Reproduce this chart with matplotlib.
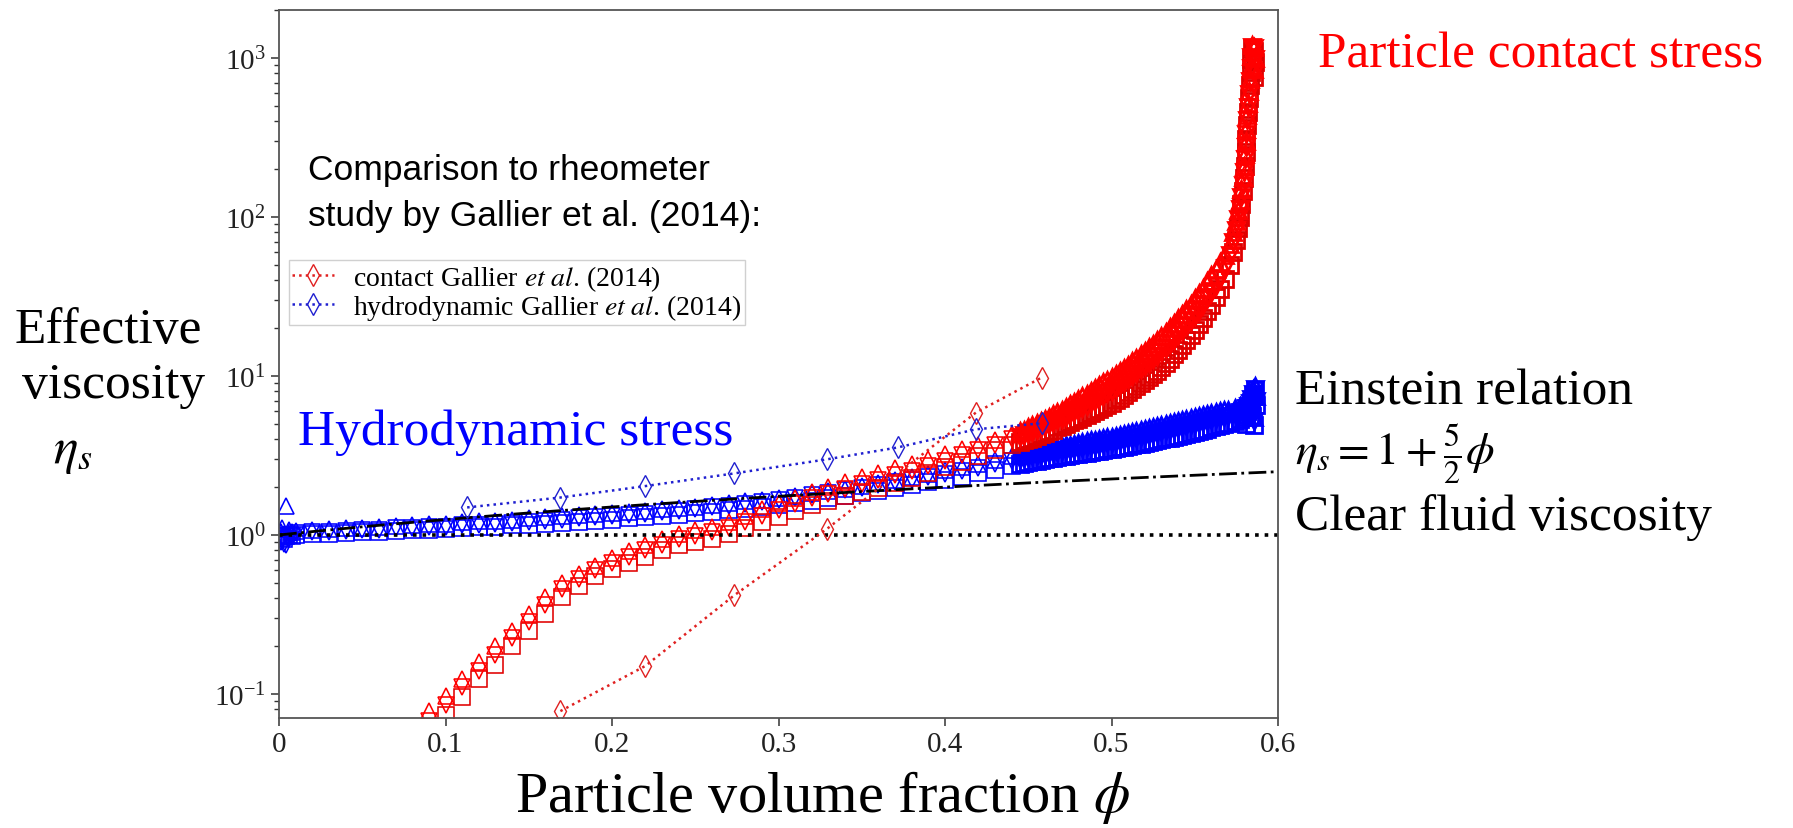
import matplotlib.pyplot as plt
from matplotlib.lines import Line2D
import numpy as np

# Figure size in pixels (dpi 100)
_W, _H = 1793, 829
_MS = 11.5
_MEW = 1.15
_MEW_DENSE = 2.0
_PHI_DENSE = 0.444

# Simulations: contact stress contribution
phi_contact = [0.09, 0.10, 0.11, 0.12, 0.13, 0.14, 0.15, 0.16, 0.17, 0.18,
               0.19, 0.20, 0.21, 0.22, 0.23, 0.24, 0.25, 0.26, 0.27, 0.28,
               0.29, 0.30, 0.31, 0.32, 0.33, 0.34, 0.35, 0.36, 0.37, 0.38,
               0.39, 0.40, 0.41, 0.42, 0.43, 0.44,
               0.445, 0.4475, 0.45, 0.4525, 0.455, 0.4575, 0.46, 0.4625,
               0.465, 0.4675, 0.47, 0.4725, 0.475, 0.4775, 0.48, 0.4825,
               0.485, 0.4875, 0.49, 0.4925, 0.495, 0.4975, 0.50, 0.5025,
               0.505, 0.5075, 0.51, 0.5125, 0.515, 0.5175, 0.52, 0.5225,
               0.525, 0.5275, 0.53, 0.5325, 0.535, 0.5375, 0.54, 0.5425,
               0.545, 0.5475, 0.55, 0.5525, 0.555, 0.5575, 0.56, 0.5625, 0.565,
               0.568, 0.571, 0.573, 0.575, 0.576, 0.577, 0.578, 0.579,
               0.5795, 0.580, 0.5805, 0.581, 0.5815, 0.582, 0.5825, 0.583,
               0.5835, 0.584, 0.5845,
               0.5855, 0.5855, 0.586]
contact_sq = [0.058, 0.074, 0.096, 0.125, 0.152, 0.20, 0.25, 0.32, 0.41, 0.48,
              0.55, 0.61, 0.67, 0.73, 0.80, 0.86, 0.90, 0.95, 1.01, 1.10,
              1.20, 1.30, 1.42, 1.54, 1.64, 1.75, 1.86, 1.98, 2.12, 2.28,
              2.46, 2.66, 2.88, 3.12, 3.40, 3.70,
              3.85, 3.95, 4.0, 4.1, 4.2, 4.3, 4.4, 4.5,
              4.6, 4.75, 4.85, 5.0, 5.1, 5.25, 5.4, 5.55,
              5.7, 5.85, 6.0, 6.2, 6.4, 6.6, 6.8, 7.05,
              7.3, 7.6, 7.9, 8.25, 8.6, 9.0, 9.4, 9.85,
              10.3, 10.8, 11.4, 12.1, 12.8, 13.7, 14.6, 15.7,
              16.8, 18.1, 19.5, 21.2, 23, 25.5, 28, 31.5, 35,
              41, 50, 60, 72, 85, 100, 120, 145,
              175, 210, 255, 310, 380, 460, 560, 680,
              820, 980, 1150,
              760, 1100, 950]
contact_tri_up = [0.078, 0.097, 0.125, 0.16, 0.2, 0.25, 0.32, 0.41, 0.5, 0.57,
                  0.64, 0.72, 0.79, 0.86, 0.94, 1.01, 1.07, 1.13, 1.21, 1.32,
                  1.45, 1.58, 1.72, 1.86, 2.0, 2.15, 2.3, 2.45, 2.62, 2.8,
                  3.0, 3.22, 3.45, 3.7, 3.98, 4.3,
                  4.5, 4.6, 4.75, 4.9, 5.05, 5.2, 5.4, 5.55,
                  5.75, 5.95, 6.15, 6.4, 6.65, 6.9, 7.15, 7.45,
                  7.75, 8.05, 8.4, 8.75, 9.1, 9.5, 9.9, 10.3,
                  10.8, 11.3, 11.8, 12.4, 13.0, 13.7, 14.4, 15.2,
                  16.0, 16.9, 17.9, 19.0, 20.2, 21.5, 23, 24.7,
                  26.5, 28.5, 30.8, 33.3, 36, 39.5, 43, 47, 52,
                  58, 68, 80, 95, 110, 128, 150, 178,
                  210, 250, 300, 360, 435, 520, 620, 740,
                  880, 1030, 1200,
                  850, 1180, 1000]
contact_tri_dn = [0.068, 0.085, 0.11, 0.14, 0.175, 0.225, 0.285, 0.365, 0.455, 0.53,
                  0.6, 0.67, 0.73, 0.8, 0.87, 0.94, 0.99, 1.04, 1.11, 1.21,
                  1.32, 1.44, 1.57, 1.7, 1.82, 1.95, 2.08, 2.22, 2.37, 2.54,
                  2.73, 2.94, 3.17, 3.42, 3.7, 4.0,
                  4.15, 4.25, 4.35, 4.45, 4.58, 4.7, 4.85, 5.0,
                  5.1, 5.25, 5.4, 5.55, 5.75, 5.9, 6.1, 6.3,
                  6.5, 6.75, 7.0, 7.25, 7.5, 7.8, 8.1, 8.45,
                  8.8, 9.2, 9.6, 10.05, 10.5, 11.0, 11.5, 12.1,
                  12.7, 13.4, 14.1, 15.0, 15.9, 16.9, 18.0, 19.3,
                  20.6, 22.1, 23.8, 25.8, 28, 30.5, 33.5, 37, 41,
                  48, 58, 70, 83, 97, 113, 134, 160,
                  192, 230, 275, 335, 405, 490, 590, 715,
                  860, 1010, 1180,
                  800, 1150, 980]

# Simulations: hydrodynamic stress contribution
phi_hydro = [0.001, 0.002, 0.003, 0.004, 0.006, 0.008,
             0.01, 0.02, 0.03, 0.04, 0.05, 0.06, 0.07, 0.08, 0.09, 0.10,
             0.11, 0.12, 0.13, 0.14, 0.15, 0.16, 0.17, 0.18, 0.19, 0.20,
             0.21, 0.22, 0.23, 0.24, 0.25, 0.26, 0.27, 0.28, 0.29, 0.30,
             0.31, 0.32, 0.33, 0.34, 0.35, 0.36, 0.37, 0.38, 0.39, 0.40,
             0.41, 0.42, 0.43, 0.44,
             0.445, 0.4475, 0.45, 0.4525, 0.455, 0.4575, 0.46, 0.4625,
             0.465, 0.4675, 0.47, 0.4725, 0.475, 0.4775, 0.48, 0.4825,
             0.485, 0.4875, 0.49, 0.4925, 0.495, 0.4975, 0.50, 0.5025,
             0.505, 0.5075, 0.51, 0.5125, 0.515, 0.5175, 0.52, 0.5225,
             0.525, 0.5275, 0.53, 0.5325, 0.535, 0.5375, 0.54, 0.5425,
             0.545, 0.5475, 0.55, 0.5525, 0.555, 0.5575, 0.56, 0.5625,
             0.565, 0.5675, 0.57,
             0.574, 0.577, 0.579, 0.581, 0.582, 0.583, 0.584, 0.585, 0.586,
             0.5855, 0.5865, 0.5805, 0.5845]
hydro_sq = [0.96, 0.98, 0.95, 0.99, 1.0, 0.99,
            1.0, 1.01, 1.02, 1.03, 1.04, 1.05, 1.06, 1.07, 1.08, 1.09,
            1.1, 1.12, 1.13, 1.15, 1.16, 1.18, 1.19, 1.21, 1.23, 1.25,
            1.27, 1.29, 1.31, 1.34, 1.37, 1.4, 1.43, 1.46, 1.5, 1.54,
            1.59, 1.64, 1.7, 1.76, 1.83, 1.9, 1.98, 2.06, 2.14, 2.23,
            2.33, 2.44, 2.56, 2.7,
            2.78, 2.82, 2.86, 2.9, 2.93, 2.97, 3.0, 3.03,
            3.06, 3.09, 3.12, 3.15, 3.18, 3.21, 3.24, 3.27,
            3.3, 3.33, 3.36, 3.39, 3.42, 3.45, 3.49, 3.52,
            3.56, 3.6, 3.64, 3.68, 3.72, 3.76, 3.81, 3.85,
            3.9, 3.95, 4.0, 4.05, 4.1, 4.15, 4.21, 4.27,
            4.33, 4.4, 4.46, 4.53, 4.6, 4.67, 4.75, 4.82,
            4.9, 4.97, 5.05,
            5.2, 5.35, 5.5, 5.7, 6.0, 6.4, 6.9, 7.5, 8.2,
            4.9, 6.6, 5.0, 5.6]
hydro_tri_up = [1.05, 1.1, 1.02, 1.52, 1.08, 1.05,
                1.06, 1.08, 1.09, 1.1, 1.11, 1.12, 1.14, 1.15, 1.17, 1.18,
                1.2, 1.22, 1.23, 1.25, 1.27, 1.29, 1.31, 1.33, 1.35, 1.37,
                1.4, 1.42, 1.45, 1.48, 1.51, 1.55, 1.59, 1.63, 1.67, 1.72,
                1.77, 1.83, 1.89, 1.96, 2.03, 2.12, 2.22, 2.32, 2.43, 2.55,
                2.67, 2.8, 2.95, 3.12,
                3.22, 3.26, 3.3, 3.34, 3.38, 3.42, 3.46, 3.5,
                3.54, 3.58, 3.62, 3.66, 3.7, 3.75, 3.79, 3.84,
                3.88, 3.93, 3.97, 4.02, 4.06, 4.11, 4.16, 4.22,
                4.27, 4.33, 4.38, 4.44, 4.5, 4.56, 4.62, 4.69,
                4.75, 4.82, 4.89, 4.96, 5.03, 5.1, 5.18, 5.26,
                5.34, 5.42, 5.5, 5.58, 5.67, 5.76, 5.85, 5.92,
                6.0, 6.08, 6.15,
                6.3, 6.5, 6.7, 6.9, 7.2, 7.5, 7.9, 8.3, 8.6,
                5.5, 7.5, 5.8, 6.3]
hydro_tri_dn = [0.9, 0.93, 0.88, 0.87, 0.95, 0.97,
                1.03, 1.04, 1.05, 1.06, 1.07, 1.08, 1.1, 1.11, 1.12, 1.13,
                1.15, 1.16, 1.18, 1.19, 1.21, 1.23, 1.25, 1.27, 1.29, 1.31,
                1.33, 1.36, 1.39, 1.42, 1.45, 1.49, 1.53, 1.57, 1.62, 1.67,
                1.72, 1.78, 1.84, 1.91, 1.98, 2.06, 2.14, 2.23, 2.32, 2.42,
                2.53, 2.65, 2.78, 2.92,
                3.0, 3.04, 3.08, 3.12, 3.15, 3.19, 3.22, 3.26,
                3.29, 3.33, 3.36, 3.4, 3.43, 3.47, 3.5, 3.54,
                3.57, 3.61, 3.65, 3.69, 3.73, 3.77, 3.81, 3.86,
                3.9, 3.95, 3.99, 4.04, 4.09, 4.15, 4.2, 4.26,
                4.31, 4.37, 4.43, 4.5, 4.56, 4.63, 4.7, 4.78,
                4.85, 4.92, 5.0, 5.08, 5.15, 5.22, 5.3, 5.37,
                5.45, 5.52, 5.6,
                5.75, 5.9, 6.05, 6.25, 6.5, 6.8, 7.2, 7.7, 8.3,
                5.2, 7.0, 5.3, 5.9]

# Rheometer data of Gallier et al. (2014)
phi_gallier_contact = [0.169, 0.22, 0.2735, 0.329, 0.4186, 0.458]
gallier_contact = [0.078, 0.150, 0.418, 1.09, 5.89, 9.77]
phi_gallier_hydro = [0.113, 0.169, 0.22, 0.2735, 0.329, 0.3715, 0.4186, 0.458]
gallier_hydro = [1.49, 1.72, 2.03, 2.44, 2.99, 3.55, 4.62, 5.04]

xticks = [0.0, 0.1, 0.2, 0.3, 0.4, 0.5, 0.6]
xticklabels = ['0', '0.1', '0.2', '0.3', '0.4', '0.5', '0.6']


def fxy(x, y):
    """Pixel position (from top left) to figure fraction."""
    return x / _W, 1 - y / _H


plt.rcParams['font.family'] = ['Liberation Serif', 'DejaVu Serif']
plt.rcParams['mathtext.fontset'] = 'stix'

fig = plt.figure(figsize=(_W / 100, _H / 100), dpi=100)
ax = fig.add_axes([279 / _W, 110 / _H, 999 / _W, 708 / _H])

# Simulation data, open markers; the crowded high-phi part gets heavier edges
red, blue = '#ff0000', '#0000ff'
for phi, vals, mk, clr in [
        (phi_hydro, hydro_sq, 's', blue),
        (phi_hydro, hydro_tri_dn, 'v', blue),
        (phi_hydro, hydro_tri_up, '^', blue),
        (phi_contact, contact_sq, 's', '#e00000'),
        (phi_contact, contact_tri_dn, 'v', red),
        (phi_contact, contact_tri_up, '^', red)]:
    phi = np.asarray(phi)
    vals = np.asarray(vals)
    dense = phi >= _PHI_DENSE
    for sel, mew in [(~dense, _MEW), (dense, _MEW_DENSE)]:
        ax.plot(phi[sel], vals[sel], linestyle='none', marker=mk, markersize=_MS,
                markerfacecolor='none', markeredgecolor=clr, markeredgewidth=mew)

# Einstein relation and clear fluid viscosity
phi_line = np.linspace(0.0, 0.6, 121)
ax.plot(phi_line, 1 + 2.5 * phi_line, color='black', linestyle='-.', linewidth=2.0)
ax.axhline(1.0, color='black', linestyle=':', linewidth=2.6)

# Gallier et al. (2014)
ax.plot(phi_gallier_contact, gallier_contact, color='#e02020', linestyle=':',
        linewidth=1.8, marker='d', markersize=11, markerfacecolor='none',
        markeredgewidth=1.0)
ax.plot(phi_gallier_hydro, gallier_hydro, color='#2020d0', linestyle=':',
        linewidth=1.8, marker='d', markersize=11, markerfacecolor='none',
        markeredgewidth=1.0)

ax.set_yscale('log')
ax.set_xlim(0, 0.6)
ax.set_ylim(0.0706, 2004)
ax.set_xticks(xticks)
ax.set_xticklabels(xticklabels)
ax.tick_params(axis='both', which='major', length=6, width=1.1, direction='out',
               labelsize=21, colors='#333333', labelcolor='#222222')
ax.tick_params(axis='y', which='minor', length=3.5, width=1.0, colors='#333333')
for sp in ax.spines.values():
    sp.set_color('#555555')
    sp.set_linewidth(1.3)

handles = [
    Line2D([], [], color='#e02020', linestyle=':', linewidth=1.8, marker='d',
           markersize=11, markerfacecolor='none'),
    Line2D([], [], color='#2020d0', linestyle=':', linewidth=1.8, marker='d',
           markersize=11, markerfacecolor='none'),
]
labels = [r'contact Gallier $\mathit{et\ al}$. (2014)',
          r'hydrodynamic Gallier $\mathit{et\ al}$. (2014)']
leg = ax.legend(handles, labels, loc='upper left', bbox_to_anchor=(0.01, 0.647),
                borderaxespad=0, fontsize=20, handlelength=1.5, handletextpad=0.7,
                labelspacing=-0.05, borderpad=0.12, fancybox=False, framealpha=1)
leg.get_frame().set_edgecolor('#d0d0d0')
leg.get_frame().set_linewidth(1.0)

# Annotations around the axes
fig.text(*fxy(308, 180), 'Comparison to rheometer', family='Liberation Sans',
         fontsize=25.5, va='baseline')
fig.text(*fxy(308, 226), 'study by Gallier et al. (2014):', family='Liberation Sans',
         fontsize=25.5, va='baseline')
fig.text(*fxy(298, 445), 'Hydrodynamic stress', color=blue, fontsize=37, va='baseline')
fig.text(*fxy(1318, 67), 'Particle contact stress', color=red, fontsize=37,
         va='baseline')
fig.text(*fxy(1295, 405), 'Einstein relation', fontsize=37, va='baseline')
fig.text(*fxy(1295, 465), r'$\eta_s = 1 + \frac{5}{2}\phi$', fontsize=33,
         va='baseline')
fig.text(*fxy(1295, 530), 'Clear fluid viscosity', fontsize=37, va='baseline')
fig.text(*fxy(15, 343), 'Effective', fontsize=37, va='baseline')
fig.text(*fxy(22, 398), 'viscosity', fontsize=37, va='baseline')
fig.text(*fxy(53, 463), r'$\eta_s$', fontsize=37, va='baseline')
fig.text(*fxy(823, 812), r'Particle volume fraction $\phi$', fontsize=42,
         ha='center', va='baseline')

fig.savefig('out.png', dpi=100, facecolor='white')
